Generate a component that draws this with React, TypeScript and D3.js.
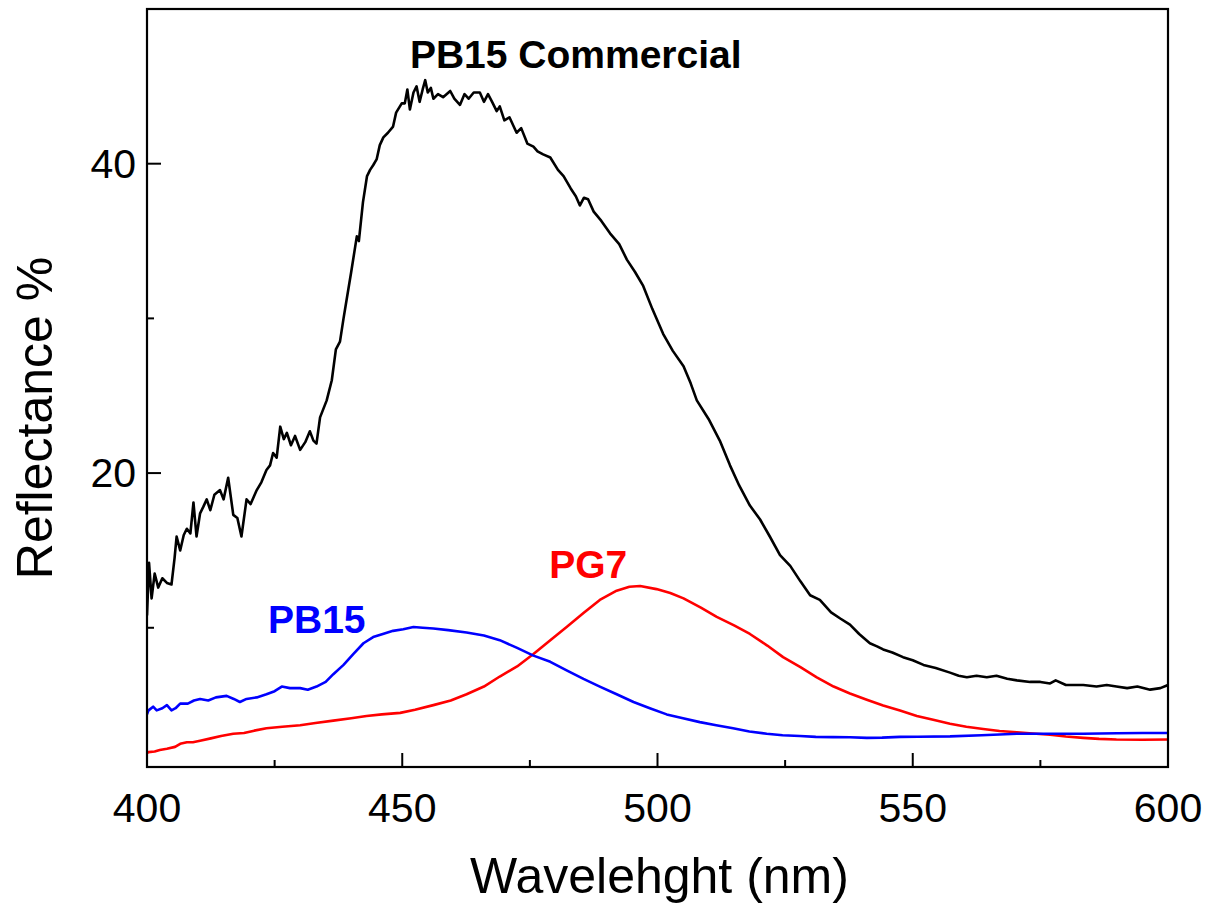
import React from "react";
import * as d3 from "d3";

// wavelength (nm), reflectance (%)
const commercial: [number, number][] = [
  [400.0, 10.8], [400.4, 14.2], [400.9, 11.9], [401.5, 13.5], [402.2, 12.6], [403.0, 13.2],
  [403.9, 12.9], [404.8, 12.8], [405.4, 14.5], [405.8, 15.9], [406.5, 15.0], [407.2, 16.0],
  [407.8, 16.4], [408.5, 16.1], [409.1, 18.1], [409.7, 15.9], [410.4, 17.4], [411.0, 17.8],
  [411.7, 18.3], [412.4, 17.6], [413.2, 18.6], [414.3, 18.9], [415.0, 18.3], [415.9, 19.7],
  [416.9, 17.3], [417.7, 17.1], [418.5, 15.9], [419.5, 18.3], [420.3, 18.0], [421.5, 18.9],
  [422.4, 19.4], [423.4, 20.2], [424.1, 20.5], [424.7, 21.3], [425.4, 21.0], [426.1, 23.0],
  [426.8, 22.2], [427.4, 22.6], [428.2, 21.8], [429.0, 22.4], [430.0, 21.5], [431.0, 22.0],
  [431.9, 22.7], [432.6, 22.1], [433.2, 21.9], [433.9, 23.6], [435.2, 24.7], [436.2, 26.0],
  [437.0, 28.0], [437.8, 28.5], [438.5, 30.0], [439.1, 31.2], [440.0, 33.0], [441.1, 35.3],
  [441.5, 35.0], [442.3, 37.5], [443.1, 39.2], [443.7, 39.6], [444.3, 39.9], [445.0, 40.3],
  [445.6, 41.2], [446.3, 41.7], [447.2, 42.0], [448.2, 42.4], [448.8, 43.3], [449.9, 43.9],
  [450.5, 43.9], [451.0, 44.8], [451.5, 43.5], [452.2, 44.6], [452.8, 45.0], [453.4, 44.0],
  [454.0, 44.8], [454.5, 45.4], [455.0, 44.6], [455.6, 44.9], [456.1, 44.2], [457.0, 44.5],
  [458.0, 44.3], [459.4, 44.7], [460.2, 44.2], [461.3, 43.8], [462.2, 44.5], [463.0, 44.2],
  [464.0, 44.6], [465.2, 44.6], [466.0, 44.0], [466.8, 44.5], [467.6, 44.0], [468.5, 43.4],
  [469.1, 43.7], [470.0, 42.8], [471.0, 43.0], [472.4, 42.0], [473.3, 42.3], [474.5, 41.3],
  [475.7, 41.1], [476.5, 40.8], [477.6, 40.6], [479.0, 40.4], [480.5, 39.6], [481.6, 39.2],
  [483.0, 38.4], [484.0, 37.9], [484.8, 37.3], [485.6, 37.8], [486.4, 37.7], [487.5, 36.9],
  [489.0, 36.3], [490.7, 35.5], [492.5, 34.8], [494.0, 33.8], [495.6, 33.0], [497.2, 32.1],
  [499.0, 30.6], [501.1, 29.0], [503.0, 27.9], [505.1, 26.9], [506.5, 25.8], [507.7, 24.7],
  [510.0, 23.5], [512.2, 22.1], [514.2, 20.5], [516.0, 19.2], [518.1, 17.9], [520.1, 17.0],
  [522.0, 15.9], [524.0, 14.7], [526.0, 14.0], [528.0, 13.0], [529.9, 12.1], [531.8, 11.8],
  [534.0, 11.0], [535.8, 10.6], [537.7, 10.2], [539.5, 9.6], [541.6, 9.0], [543.0, 8.8],
  [544.2, 8.6], [546.0, 8.4], [548.1, 8.1], [550.0, 7.9], [552.1, 7.6], [554.5, 7.4],
  [557.3, 7.1], [559.0, 6.9], [560.6, 6.8], [562.5, 6.9], [564.5, 6.8], [566.4, 6.9],
  [568.5, 6.7], [570.4, 6.6], [573.0, 6.5], [575.0, 6.5], [576.9, 6.4], [578.0, 6.6],
  [580.0, 6.3], [583.4, 6.3], [586.0, 6.2], [588.0, 6.3], [589.9, 6.2], [592.0, 6.1],
  [594.0, 6.2], [596.5, 6.0], [598.5, 6.1], [600.0, 6.3],
];

const pb15: [number, number][] = [
  [400.0, 4.4], [400.3, 4.66], [401.2, 4.9], [401.9, 4.66], [403.0, 4.8], [403.9, 5.0],
  [404.8, 4.66], [405.6, 4.8], [406.5, 5.1], [408.0, 5.1], [409.2, 5.3], [410.4, 5.4],
  [412.0, 5.3], [413.5, 5.5], [415.6, 5.6], [417.0, 5.4], [418.2, 5.2], [419.5, 5.4],
  [421.5, 5.5], [423.4, 5.7], [425.0, 5.9], [426.4, 6.2], [428.0, 6.1], [430.0, 6.1],
  [431.5, 6.0], [433.2, 6.2], [435.0, 6.5], [436.5, 7.0], [438.5, 7.6], [440.4, 8.3],
  [442.4, 9.0], [444.3, 9.4], [446.2, 9.6], [448.2, 9.8], [450.2, 9.9], [452.2, 10.05],
  [454.0, 10.0], [456.1, 9.95], [459.0, 9.85], [462.6, 9.7], [466.0, 9.5], [469.1, 9.2],
  [472.5, 8.7], [475.7, 8.2], [479.0, 7.8], [482.2, 7.25], [485.5, 6.7], [488.7, 6.2],
  [492.0, 5.7], [495.3, 5.2], [498.5, 4.8], [501.8, 4.4], [505.0, 4.15], [508.3, 3.9],
  [511.5, 3.7], [514.8, 3.5], [518.0, 3.3], [521.4, 3.15], [524.5, 3.05], [527.9, 3.0],
  [531.0, 2.95], [534.4, 2.93], [537.7, 2.92], [541.0, 2.88], [544.0, 2.9], [547.5, 2.95],
  [551.0, 2.96], [557.3, 2.98], [563.5, 3.05], [570.4, 3.15], [577.0, 3.15], [583.4, 3.15],
  [590.0, 3.18], [595.0, 3.2], [600.0, 3.2],
];

const pg7: [number, number][] = [
  [400.0, 1.9], [400.3, 1.96], [401.5, 2.0], [402.5, 2.1], [403.9, 2.18], [405.5, 2.3],
  [406.5, 2.5], [407.8, 2.6], [409.0, 2.6], [410.4, 2.7], [412.5, 2.85], [414.5, 3.0],
  [416.9, 3.15], [419.0, 3.2], [421.0, 3.35], [423.4, 3.5], [426.5, 3.6], [430.0, 3.7],
  [433.0, 3.85], [436.5, 4.0], [440.0, 4.15], [443.0, 4.3], [446.0, 4.4], [449.6, 4.5],
  [452.5, 4.7], [456.1, 5.0], [459.5, 5.3], [462.6, 5.7], [466.0, 6.2], [469.1, 6.85],
  [472.5, 7.5], [475.7, 8.3], [479.0, 9.2], [482.2, 10.05], [485.5, 10.95], [488.7, 11.8],
  [492.0, 12.4], [494.5, 12.65], [496.6, 12.7], [499.8, 12.5], [502.5, 12.25], [505.1, 11.9],
  [508.5, 11.3], [511.6, 10.7], [515.0, 10.15], [518.1, 9.6], [521.5, 8.85], [524.6, 8.1],
  [528.0, 7.45], [531.2, 6.8], [534.5, 6.2], [537.7, 5.75], [541.0, 5.35], [544.2, 4.98],
  [547.5, 4.65], [550.8, 4.3], [554.0, 4.05], [557.3, 3.8], [560.5, 3.6], [563.8, 3.46],
  [567.0, 3.33], [570.4, 3.25], [573.5, 3.17], [576.9, 3.08], [580.0, 2.97], [583.4, 2.88],
  [586.5, 2.82], [589.9, 2.78], [595.0, 2.76], [600.0, 2.78],
];

const xMajor = [400, 450, 500, 550, 600];
const xMinor = [425, 475, 525, 575];
const yMajor = [20, 40];
const yMinor = [10, 30];

// label text, colour, anchor wavelength, anchor reflectance
const labels: [string, string, number, number][] = [
  ["PB15 Commercial", "#000000", 451.5, 46.2],
  ["PB15", "#0000ff", 423.7, 9.68],
  ["PG7", "#ff0000", 478.8, 13.2],
];

const W = 1209;
const H = 904;
const margin = { top: 9, right: 41, bottom: 137, left: 147 };
const font = "'Liberation Sans', Arial, sans-serif";

export default function App() {
  const x = d3.scaleLinear().domain([400, 600]).range([margin.left, W - margin.right]);
  const y = d3.scaleLinear().domain([1, 50]).range([H - margin.bottom, margin.top]);

  const line = d3
    .line<[number, number]>()
    .x((d) => x(d[0]))
    .y((d) => y(d[1]));

  const series: [[number, number][], string][] = [
    [commercial, "#000000"],
    [pg7, "#ff0000"],
    [pb15, "#0000ff"],
  ];

  const x0 = margin.left;
  const x1 = W - margin.right;
  const y0 = H - margin.bottom;
  const y1 = margin.top;

  return (
    <div style={{ position: "absolute", left: 0, top: 0 }}>
      <svg width={W} height={H} style={{ display: "block", background: "#fff" }}>
        <defs>
          <clipPath id="plot">
            <rect x={x0} y={y1} width={x1 - x0} height={y0 - y1} />
          </clipPath>
        </defs>

        <g clipPath="url(#plot)">
          {series.map(([data, color], i) => (
            <path key={i} d={line(data) ?? ""} fill="none" stroke={color}
              strokeWidth={2.6} strokeLinejoin="round" />
          ))}
        </g>

        {/* ticks point inward */}
        <g stroke="#000" strokeWidth={2}>
          {xMajor.map((v) => (
            <line key={"xm" + v} x1={x(v)} x2={x(v)} y1={y0} y2={y0 - 14} />
          ))}
          {xMinor.map((v) => (
            <line key={"xn" + v} x1={x(v)} x2={x(v)} y1={y0} y2={y0 - 7} />
          ))}
          {yMajor.map((v) => (
            <line key={"ym" + v} x1={x0} x2={x0 + 14} y1={y(v)} y2={y(v)} />
          ))}
          {yMinor.map((v) => (
            <line key={"yn" + v} x1={x0} x2={x0 + 7} y1={y(v)} y2={y(v)} />
          ))}
        </g>

        <rect x={x0} y={y1} width={x1 - x0} height={y0 - y1} fill="none"
          stroke="#000" strokeWidth={2.2} />

        <g fontFamily={font} fontSize={41} fill="#000">
          {xMajor.map((v) => (
            <text key={"xl" + v} x={x(v)} y={822} textAnchor="middle">{v}</text>
          ))}
          {yMajor.map((v) => (
            <text key={"yl" + v} x={x0 - 11} y={y(v) + 14} textAnchor="end">{v}</text>
          ))}
        </g>

        <text x={(x0 + x1) / 2 + 2} y={893} textAnchor="middle" fontFamily={font}
          fontSize={50} fill="#000">Wavelehght (nm)</text>
        <text transform={`translate(52, 418) rotate(-90)`} textAnchor="middle"
          fontFamily={font} fontSize={50} fill="#000">Reflectance %</text>

        {labels.map(([t, c, lx, ly]) => (
          <text key={t} x={x(lx)} y={y(ly)} fontFamily={font} fontSize={39}
            fontWeight="bold" fill={c}>{t}</text>
        ))}
      </svg>
    </div>
  );
}
